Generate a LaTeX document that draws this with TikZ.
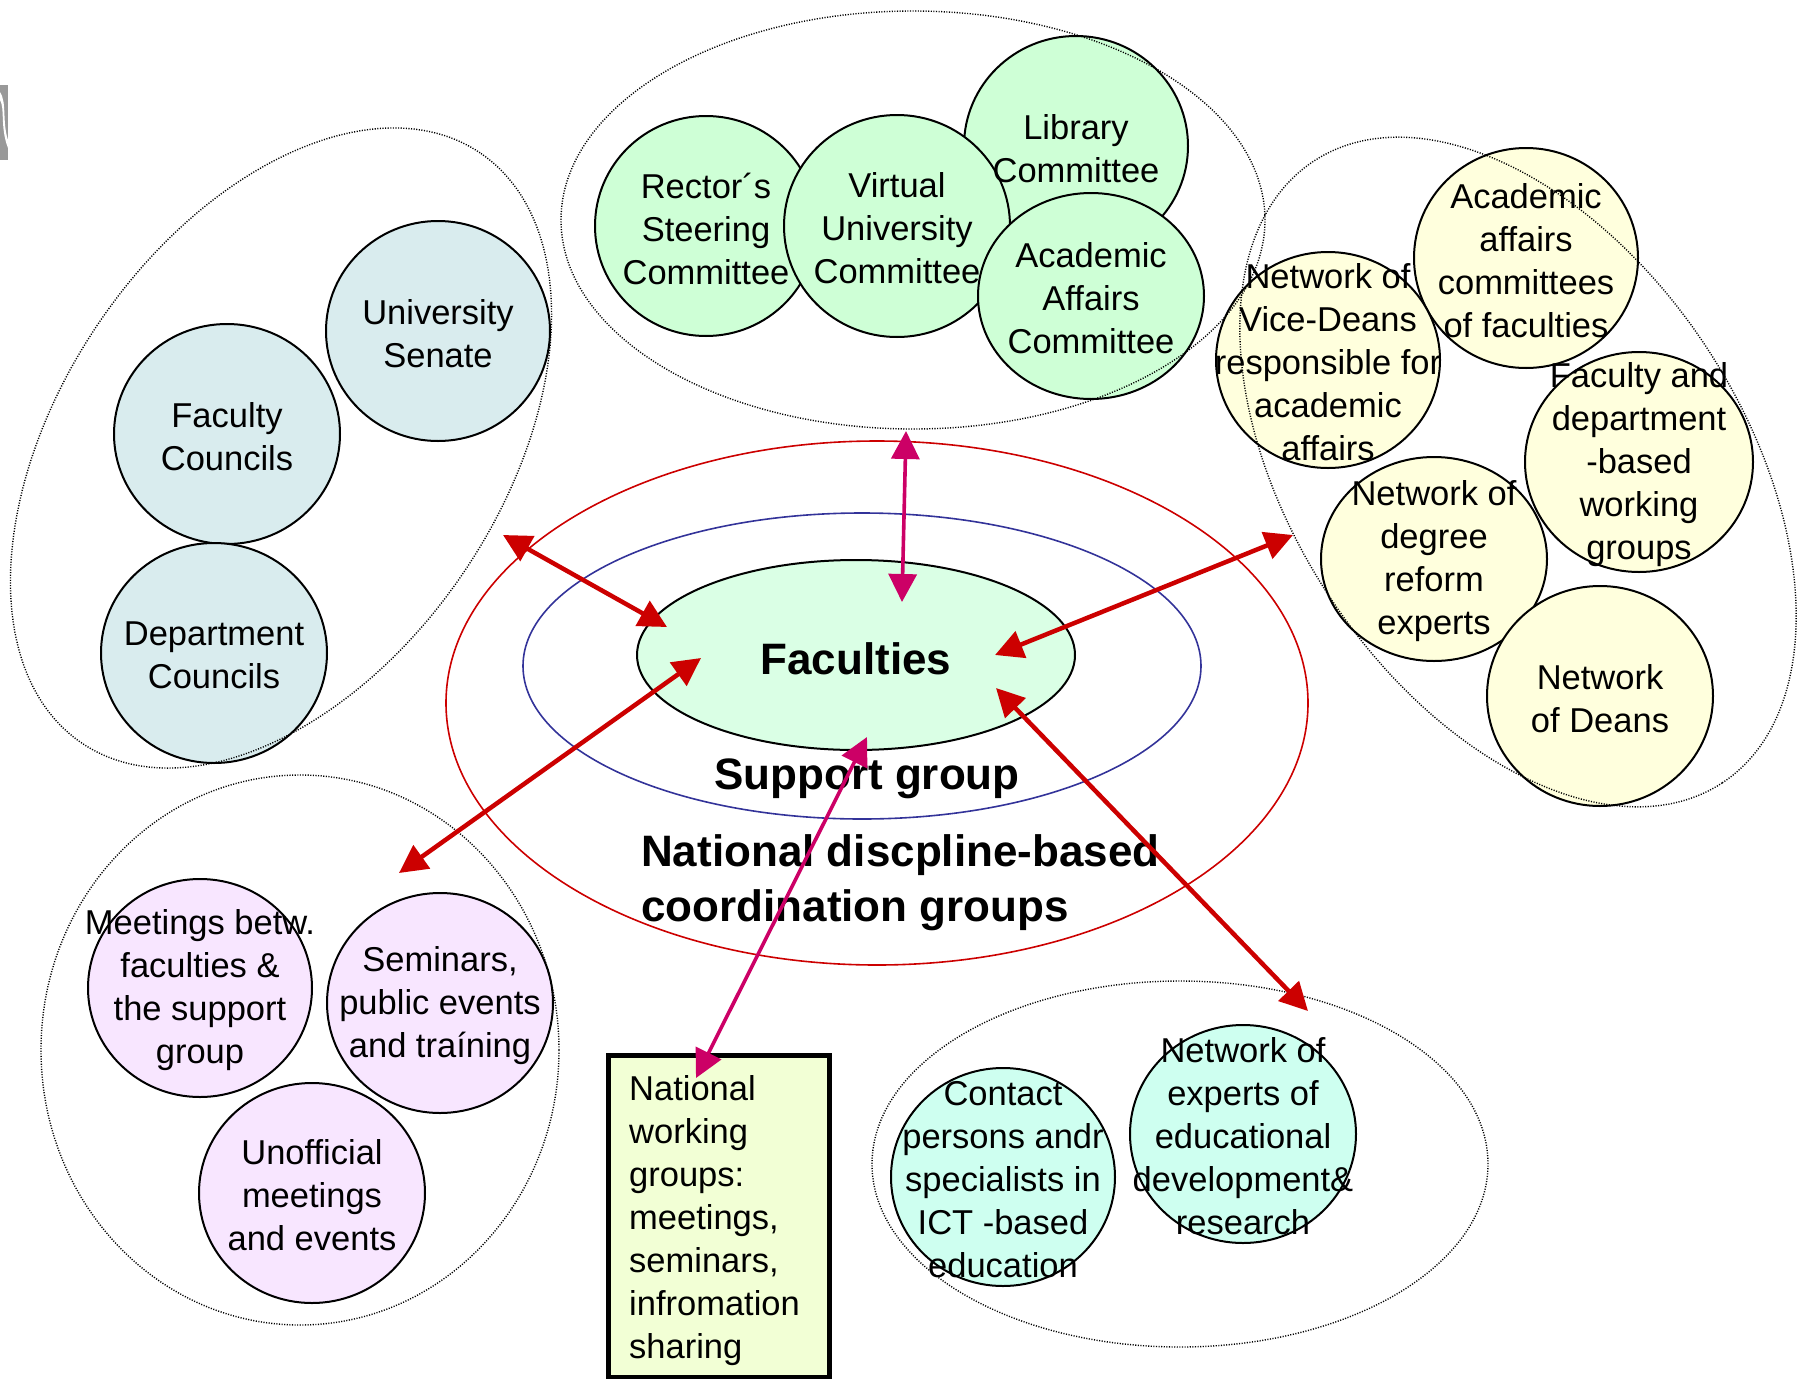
\documentclass[tikz,border=0pt]{standalone}
\usepackage{fontspec}
\setmainfont{Liberation Sans}
\usetikzlibrary{shapes.geometric,arrows.meta}
\definecolor{cLeft}{RGB}{217,236,238}
\definecolor{cTop}{RGB}{206,255,214}
\definecolor{cFac}{RGB}{218,255,229}
\definecolor{cRight}{RGB}{255,255,221}
\definecolor{cPink}{RGB}{248,230,255}
\definecolor{cCyan}{RGB}{206,255,240}
\definecolor{cBox}{RGB}{242,255,213}
\definecolor{cRed}{RGB}{204,0,0}
\definecolor{cMag}{RGB}{204,0,102}
\definecolor{cBlue}{RGB}{51,51,153}
\begin{document}
\begin{tikzpicture}[x=1pt,y=-1pt,
  blob/.style={ellipse,draw=black,line width=2pt,inner sep=0pt},
  lbl/.style={align=center,font=\fontsize{34.5}{43}\selectfont,inner sep=0pt,yshift=-2.5pt},
  big/.style={align=left,font=\fontsize{44}{55}\selectfont\bfseries,inner sep=0pt,yshift=-3.5pt},
  grp/.style={ellipse,draw=black,line width=1.4pt,dash pattern=on 1.1pt off 1.5pt,inner sep=0pt},
  ring/.style={ellipse,line width=1.6pt,inner sep=0pt},
  redarr/.style={draw=cRed,line width=4.5pt,{Triangle[length=28pt,width=28pt]}-{Triangle[length=28pt,width=28pt]}},
  magarr/.style={draw=cMag,line width=3.6pt,{Triangle[length=28pt,width=28pt]}-{Triangle[length=28pt,width=28pt]}}
]
\useasboundingbox (0,0) rectangle (1808,1379);
% corner fragment
\fill[black!40] (0,85) rectangle (8,160);
\fill[white] (0,92) .. controls (7,102) and (2,122) .. (8,140) -- (8,148) .. controls (0,128) and (5,108) .. (0,100) -- cycle;

% central rings
\node[ring,draw=cRed,minimum width=862pt,minimum height=524pt] (redring) at (877,703) {};
\node[ring,draw=cBlue,minimum width=678pt,minimum height=306pt] (bluering) at (862,666) {};
\node[blob,fill=cFac,minimum width=438pt,minimum height=190pt] (fac) at (856,655) {};
\node[big] at (fac) {Faculties};
\node[big] (sup) at (867,775) {Support group};
\node[big,anchor=west] (nat) at (641,879) {National discpline-based\\coordination groups};

% top cluster
\node[blob,fill=cTop,minimum width=222pt,minimum height=220pt] (rec) at (706,226) {};
\node[blob,fill=cTop,minimum width=224pt,minimum height=220pt] (lib) at (1076,146) {};
\node[blob,fill=cTop,minimum width=226pt,minimum height=222pt] (vir) at (897,226) {};
\node[blob,fill=cTop,minimum width=226pt,minimum height=206pt] (aac) at (1091,296) {};
\node[lbl] at (rec) {Rector´s\\Steering\\Committee};
\node[lbl] at (vir) {Virtual\\University\\Committee};
\node[lbl] at (lib) {Library\\Committee};
\node[lbl] at (aac) {Academic\\Affairs\\Committee};

% left cluster
\node[blob,fill=cLeft,minimum width=224pt,minimum height=220pt] (sen) at (438,331) {};
\node[blob,fill=cLeft,minimum width=226pt,minimum height=220pt] (fco) at (227,434) {};
\node[blob,fill=cLeft,minimum width=226pt,minimum height=220pt] (dco) at (214,653) {};
\node[lbl] at (sen) {University\\Senate};
\node[lbl] at (fco) {Faculty\\Councils};
\node[lbl] at (dco) {Department\\Councils};

% right cluster
\node[blob,fill=cRight,minimum width=224pt,minimum height=220pt] (aaf) at (1526,258) {};
\node[blob,fill=cRight,minimum width=224pt,minimum height=216pt] (vdn) at (1328,360) {};
\node[blob,fill=cRight,minimum width=228pt,minimum height=220pt] (fdw) at (1639,462) {};
\node[blob,fill=cRight,minimum width=226pt,minimum height=204pt] (dre) at (1434,559) {};
\node[blob,fill=cRight,minimum width=226pt,minimum height=220pt] (dea) at (1600,696) {};
\node[lbl] at (aaf) {Academic\\affairs\\committees\\of faculties};
\node[lbl] at (vdn) {Network of\\Vice-Deans\\responsible for\\academic\\affairs};
\node[lbl] at (fdw) {Faculty and\\department\\-based\\working\\groups};
\node[lbl] at (dre) {Network of\\degree\\reform\\experts};
\node[lbl] at (dea) {Network\\of Deans};

% bottom-left cluster
\node[blob,fill=cPink,minimum width=224pt,minimum height=218pt] (mtg) at (200,988) {};
\node[blob,fill=cPink,minimum width=226pt,minimum height=220pt] (sem) at (440,1003) {};
\node[blob,fill=cPink,minimum width=226pt,minimum height=220pt] (uno) at (312,1193) {};
\node[lbl] at (mtg) {Meetings betw.\\faculties \&\\the support\\group};
\node[lbl] at (sem) {Seminars,\\public events\\and traíning};
\node[lbl] at (uno) {Unofficial\\meetings\\and events};

% bottom-right cluster
\node[blob,fill=cCyan,minimum width=224pt,minimum height=218pt] (ict) at (1003,1177) {};
\node[blob,fill=cCyan,minimum width=226pt,minimum height=218pt] (edu) at (1243,1134) {};
\node[lbl] at (ict) {Contact\\persons andr\\specialists in\\ICT -based\\education};
\node[lbl] at (edu) {Network of\\experts of\\educational\\development\&\\research};

% box
\node[draw=black,line width=5pt,fill=cBox,minimum width=221pt,minimum height=322pt,inner sep=0pt] (box) at (719,1216) {};
\node[lbl,align=left,anchor=west] at (629,1218) {National\\working\\groups:\\meetings,\\seminars,\\infromation\\sharing};

% dotted group outlines
\node[grp,minimum width=704pt,minimum height=418pt] (gtop) at (913,220) {};
\node[grp,minimum width=712pt,minimum height=442pt,rotate=56] (gleft) at (281,448) {};
\node[grp,minimum width=744pt,minimum height=452pt,rotate=-56.7] (gright) at (1518,472) {};
\node[grp,minimum width=518pt,minimum height=550pt] (gbl) at (300,1050) {};
\node[grp,minimum width=616pt,minimum height=366pt] (gbr) at (1180,1164) {};

% arrow ends
\coordinate (a1s) at (503,535); \coordinate (a1e) at (667,627);
\coordinate (a2s) at (701,658); \coordinate (a2e) at (399,873);
\coordinate (a3s) at (1293,535); \coordinate (a3e) at (995,655);
\coordinate (a4s) at (996,688); \coordinate (a4e) at (1308,1011);
\coordinate (a5s) at (906,431); \coordinate (a5e) at (902,602);
\coordinate (a6s) at (867,737); \coordinate (a6e) at (696,1078);
\draw[redarr] (a1s) -- (a1e);
\draw[redarr] (a2s) -- (a2e);
\draw[redarr] (a3s) -- (a3e);
\draw[redarr] (a4s) -- (a4e);
\draw[magarr] (a5s) -- (a5e);
\draw[magarr] (a6s) -- (a6e);
\end{tikzpicture}
\end{document}
